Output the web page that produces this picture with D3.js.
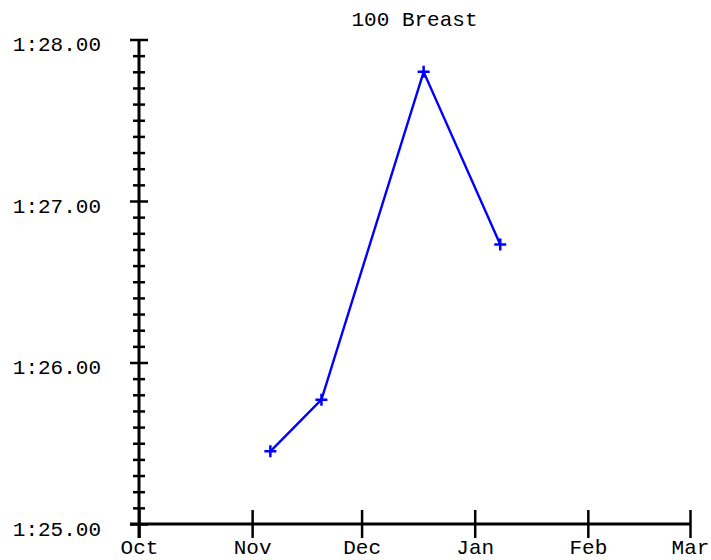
<!DOCTYPE html>
<html>
<head>
<meta charset="utf-8">
<script src="https://cdn.jsdelivr.net/npm/d3@7"></script>
<style>
  html, body { margin: 0; padding: 0; background: #fff; }
  svg text { font-family: "Liberation Mono", "Courier New", monospace; fill: #000; }
</style>
</head>
<body>
<svg id="chart" width="711" height="560"></svg>
<script>
// ---- data ----
const title = "100 Breast";
const swimDates = ["2018-11-06", "2018-11-20", "2018-12-18", "2019-01-08"];
const swimTimes = [85.45, 85.77, 87.80, 86.73]; // seconds
const monthTicks = ["2018-10-01", "2018-11-01", "2018-12-01", "2019-01-01", "2019-02-01", "2019-03-01"];
const majorTimeTicks = [85, 86, 87, 88];
const minorTimeTicks = [85.1,85.2,85.3,85.4,85.5,85.6,85.7,85.8,85.9,
                        86.1,86.2,86.3,86.4,86.5,86.6,86.7,86.8,86.9,
                        87.1,87.2,87.3,87.4,87.5,87.6,87.7,87.8,87.9];

const parse = d3.utcParse("%Y-%m-%d");
const points = swimDates.map((d, i) => ({ date: parse(d), t: swimTimes[i] }));
const months = monthTicks.map(parse);

const svg = d3.select("#chart");
const x = d3.scaleUtc().domain([months[0], months[months.length - 1]]).range([139, 690]);
const y = d3.scaleLinear().domain([85, 88]).range([524, 39.5]);

const fmt = v => {
  const m = Math.floor(v / 60);
  const s = v - m * 60;
  return m + ":" + s.toFixed(2).padStart(5, "0");
};

// minor y ticks
const yMinor = svg.append("g").attr("transform", "translate(139,0)")
  .call(d3.axisLeft(y).tickValues(minorTimeTicks).tickFormat(""));
yMinor.select(".domain").remove();
yMinor.selectAll(".tick line").attr("x1", -6).attr("x2", 6)
  .attr("stroke", "#000").attr("stroke-width", 2.5);

// major y ticks + labels
const yAxis = svg.append("g").attr("transform", "translate(139,0)")
  .call(d3.axisLeft(y).tickValues(majorTimeTicks).tickFormat(fmt));
yAxis.select(".domain").remove();
yAxis.selectAll(".tick line").attr("x1", -9).attr("x2", 9)
  .attr("stroke", "#000").attr("stroke-width", 2.5);
yAxis.selectAll(".tick text")
  .attr("x", -38).attr("dy", null).attr("y", 11)
  .attr("text-anchor", "end")
  .style("font-size", "21px");

// y axis line
svg.append("line")
  .attr("x1", 139).attr("x2", 139)
  .attr("y1", y(88)).attr("y2", 538)
  .attr("stroke", "#000").attr("stroke-width", 3);

// x axis
const xAxis = svg.append("g").attr("transform", "translate(0,524)")
  .call(d3.axisBottom(x).tickValues(months).tickFormat(d3.utcFormat("%b")));
xAxis.select(".domain").remove();
xAxis.selectAll(".tick line").attr("y1", -14).attr("y2", 14)
  .attr("stroke", "#000").attr("stroke-width", 2.5);
xAxis.selectAll(".tick text")
  .attr("dy", null).attr("y", 30)
  .attr("text-anchor", "middle")
  .style("font-size", "21px");

svg.append("line")
  .attr("x1", 130).attr("x2", x(months[months.length - 1]))
  .attr("y1", 524).attr("y2", 524)
  .attr("stroke", "#000").attr("stroke-width", 3);

// title
svg.append("text")
  .attr("x", (x.range()[0] + x.range()[1]) / 2)
  .attr("y", 26)
  .attr("text-anchor", "middle")
  .style("font-size", "21px")
  .text(title);

// line
svg.append("path")
  .datum(points)
  .attr("fill", "none")
  .attr("stroke", "#0000ff")
  .attr("stroke-width", 2.4)
  .attr("d", d3.line().x(d => x(d.date)).y(d => y(d.t)));

// plus markers
svg.append("g").selectAll("path")
  .data(points)
  .join("path")
  .attr("transform", d => `translate(${x(d.date)},${y(d.t)})`)
  .attr("d", "M-6,0H6M0,-6V6")
  .attr("stroke", "#0000ff")
  .attr("stroke-width", 2.5)
  .attr("fill", "none");
</script>
</body>
</html>
